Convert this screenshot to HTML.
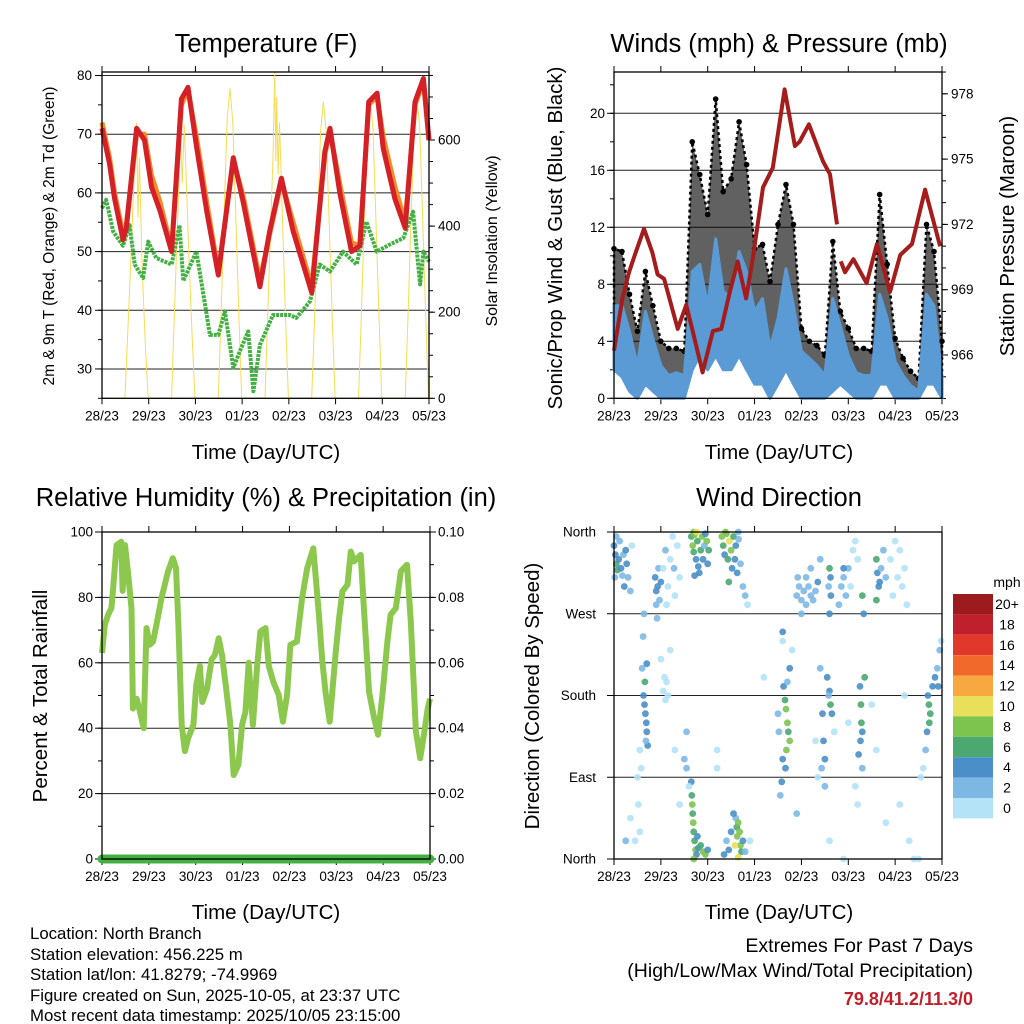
<!DOCTYPE html>
<html><head><meta charset="utf-8">
<style>
body{margin:0;background:#fff;}
svg{display:block;font-family:"Liberation Sans",Arial,sans-serif;}
</style></head>
<body>
<svg id="c" width="1024" height="1024" viewBox="0 0 1024 1024" xmlns="http://www.w3.org/2000/svg">
<rect width="1024" height="1024" fill="#fff"/>
<g font-size="25.5" text-anchor="middle" fill="#000">
<text x="266" y="52">Temperature (F)</text>
<text x="779" y="52">Winds (mph) &amp; Pressure (mb)</text>
<text x="266" y="506">Relative Humidity (%) &amp; Precipitation (in)</text>
<text x="779" y="506">Wind Direction</text>
</g>
<g font-size="20.5" text-anchor="middle">
<text x="266" y="459">Time (Day/UTC)</text>
<text x="779" y="459">Time (Day/UTC)</text>
<text x="266" y="919">Time (Day/UTC)</text>
<text x="779" y="919">Time (Day/UTC)</text>
<text transform="translate(54,236) rotate(-90)" font-size="15.5">2m &amp; 9m T (Red, Orange) &amp; 2m Td (Green)</text>
<text transform="translate(497,241) rotate(-90)" font-size="16">Solar Insolation (Yellow)</text>
<text transform="translate(562,238) rotate(-90)">Sonic/Prop Wind &amp; Gust (Blue, Black)</text>
<text transform="translate(1014,236) rotate(-90)">Station Pressure (Maroon)</text>
<text transform="translate(47,696) rotate(-90)">Percent &amp; Total Rainfall</text>
<text transform="translate(539,696) rotate(-90)">Direction (Colored By Speed)</text>
</g>
<g font-size="16.8">
<text x="30" y="939">Location: North Branch</text>
<text x="30" y="960">Station elevation: 456.225 m</text>
<text x="30" y="980">Station lat/lon: 41.8279; -74.9969</text>
<text x="30" y="1001">Figure created on Sun, 2025-10-05, at 23:37 UTC</text>
<text x="30" y="1021">Most recent data timestamp: 2025/10/05 23:15:00</text>
</g>
<g font-size="19.5" text-anchor="end">
<text x="973" y="952">Extremes For Past 7 Days</text>
<text x="973" y="977">(High/Low/Max Wind/Total Precipitation)</text>
<text x="973" y="1005" fill="#c0202b" font-weight="bold" font-size="18">79.8/41.2/11.3/0</text>
</g>
<g id="layer"></g>
</svg>
<script>
// ---------- data ----------
const dayLabels=["28/23","29/23","30/23","01/23","02/23","03/23","04/23","05/23"];
const tDays=[0,0.16,0.27,0.45,0.52,0.74,0.91,1.06,1.24,1.49,1.70,1.84,2.02,2.24,2.49,2.81,3.02,3.38,3.59,3.84,4.09,4.49,4.77,4.88,5.09,5.34,5.52,5.71,5.89,6.02,6.27,6.49,6.70,6.88,7.0];
const tRed=[71,65,59,52,54,71,69,61,57,50,76,78,68,57,46,66,58.5,44,53.5,62.5,53.5,43,67,71,60,50,51,75.5,77,67.6,59,54,75.5,79.5,69];
const tOrange=[72,66,60,53,54.5,70,70,63,58.5,50.5,75,77.5,69.5,58.5,46.5,65.5,59.5,45,53,62,55,44,66.5,70.5,61.5,51.5,51,75,76.5,69.5,61,55,75,79,69];
const tdDays=[0,0.09,0.24,0.45,0.59,0.7,0.88,0.99,1.16,1.49,1.66,1.74,2.02,2.16,2.31,2.49,2.63,2.81,2.95,3.13,3.24,3.38,3.66,4.02,4.16,4.45,4.66,4.88,5.16,5.45,5.66,5.88,6.16,6.45,6.66,6.81,6.88,7.0];
const tdVals=[57.4,58.8,53.4,51,54.5,47.8,45.5,51.7,48.9,47.8,54.5,45,50,43.2,35.8,35.8,39.8,30.2,33,36.4,26.2,34.1,39.2,39.2,38.7,41.5,47.8,46.6,50,47.8,55.1,50,51.2,52.3,56.8,44.4,50,48.3];
const solarDays=[0,0.49,0.55,0.62,0.68,0.74,0.77,0.80,0.86,0.93,0.99,1.49,1.55,1.62,1.68,1.72,1.76,1.80,1.86,1.93,1.99,2.49,2.55,2.62,2.68,2.74,2.80,2.86,2.93,2.99,3.49,3.55,3.62,3.66,3.70,3.72,3.74,3.77,3.80,3.86,3.93,3.99,4.49,4.55,4.62,4.68,4.74,4.80,4.86,4.93,4.99,5.49,5.55,5.62,5.68,5.74,5.80,5.86,5.93,5.99,6.49,6.55,6.62,6.68,6.74,6.80,6.86,6.93,6.99,7];
const solarVals=[0,0,150,330,500,640,420,560,300,120,0,0,200,420,600,500,635,520,330,140,0,0,200,450,650,720,640,440,190,0,0,200,430,560,757,550,700,520,640,430,180,0,0,180,420,620,689,620,420,180,0,0,190,430,630,697,630,430,190,0,0,190,430,630,697,630,430,190,0,0];
const tempTicks=[30,40,50,60,70,80];
const solarTicks=[0,200,400,600];

const windDays=[0,0.17,0.33,0.5,0.67,0.83,1,1.17,1.33,1.5,1.67,1.83,2,2.17,2.33,2.5,2.67,2.83,3,3.17,3.33,3.5,3.67,3.83,4,4.17,4.33,4.5,4.67,4.83,5,5.17,5.33,5.5,5.67,5.83,6,6.17,6.33,6.5,6.67,6.83,7];
const gustHi=[10.5,10.3,7.3,4.7,8.9,6.5,4,3.5,3.5,3.3,18,15.7,12.9,21,14.5,15.4,19.4,16.4,10.5,10.8,8.2,12.2,15,12.2,4.9,4,3.7,3,11,6.1,4.9,3.5,3.5,3.3,14.3,9.4,4.2,2.8,1.9,1.4,12.2,10.3,4];
const windHi=[6.5,6.5,4.7,2.3,6.1,4.2,2.3,1.6,1.8,1.6,8.9,9.4,6.5,11.2,7.5,7,10.3,8.9,6.1,7,3.5,5.6,9.1,6.5,3.3,2.8,2.3,1.6,7,5.1,3,1.8,1.6,1.6,7.3,5.6,2.6,1.6,0.9,0.5,7.3,6.5,1.5];
const windLo=[2,1.5,0.5,0,1,0.5,0,0,0,0,2,3,2,3,2,2,3,2,1,1,0,1,2,1,0,0,0,0,0.5,1,0.5,0,0,0,1,1,0,0,0,0,1,1,0];
const pDays=[0,0.18,0.32,0.46,0.64,0.82,0.93,1.07,1.36,1.54,1.68,1.89,2.11,2.29,2.46,2.64,2.82,2.96,3.18,3.39,3.64,3.86,3.96,4.16,4.46,4.61,4.76,4.8,4.84,4.93,5.11,5.39,5.61,5.89,6.11,6.36,6.64,6.96];
const pVals=[966.2,968.6,969.8,970.7,971.8,970.7,969.7,969.5,967.2,968.3,967.1,965.2,967.1,967.2,968.8,970.3,968.6,970.4,973.7,974.6,978.2,975.6,975.8,976.6,974.9,974.3,972.0,null,970.3,969.8,970.4,969.3,971.1,968.9,970.6,971.1,973.6,971.0];
const windTicks=[0,4,8,12,16,20];
const pressTicks=[966,969,972,975,978];

const rhDays=[0,0.06,0.13,0.2,0.24,0.31,0.41,0.44,0.49,0.56,0.63,0.66,0.74,0.81,0.89,0.95,1.02,1.09,1.16,1.27,1.41,1.51,1.58,1.63,1.7,1.77,1.84,1.95,2.01,2.09,2.14,2.24,2.34,2.41,2.49,2.56,2.66,2.74,2.81,2.91,2.99,3.06,3.13,3.22,3.31,3.38,3.49,3.56,3.66,3.77,3.86,3.95,4.02,4.16,4.27,4.38,4.51,4.63,4.7,4.77,4.86,4.99,5.06,5.13,5.24,5.31,5.38,5.52,5.59,5.7,5.81,5.89,5.99,6.09,6.16,6.27,6.38,6.51,6.59,6.7,6.79,6.88,6.95,7.0];
const rhVals=[63,71.6,74.7,76.7,82.9,96,97,82,96,87,76.7,46,49,45,40,70.6,65.5,66.5,71.6,79.8,88,92,89,71.6,41,33,37,41,53,59,48,52,61,62.4,67.5,62.4,51,41,25.7,28.8,41,45,60,41,59,69.6,70.6,59,54,50.2,42,50.2,65.5,66.5,79.8,89,95,74.7,61,51,42,63.5,73.7,81.8,83.9,94,91,93,76.7,51,43,38,51,66.5,74.7,76.7,88,90,72.6,39,30.8,39,46,49];
const precipDays=[0,7];
const precipVals=[0,0];
const rhTicks=[0,20,40,60,80,100];
const precipTicks=["0.00","0.02","0.04","0.06","0.08","0.10"];

const dirPts=[[0.0,345,5],[0.03,335,5],[0.05,325,7],[0.07,318,7],[0.1,330,5],[0.12,350,3],[0.15,320,5],[0.18,312,3],[0.2,335,3],[0.25,340,5],[0.27,325,5],[0.3,310,3],[0.35,295,3],[0.38,345,1],[0.05,355,3],[0.22,300,5],[0.02,310,3],
[0.88,310,5],[0.9,295,5],[0.93,300,5],[0.95,320,3],[0.97,285,3],[0.9,280,3],[1.0,305,5],[0.92,265,3],
[1.05,320,1],[1.1,340,3],[1.15,300,1],[1.2,330,1],[1.25,355,1],[1.3,290,1],[1.35,345,1],[1.4,310,1],[1.12,280,1],[1.28,320,3],
[1.65,355,7],[1.68,345,9],[1.7,338,7],[1.72,357,9],[1.75,330,5],[1.78,350,7],[1.8,322,5],[1.82,315,5],[1.85,340,7],[1.88,355,9],[1.9,330,5],[1.93,345,3],[1.95,358,5],[1.98,350,9],[2.0,325,5],[2.02,340,7],[1.7,360,9],[1.76,360,11],[1.72,312,5],
[2.3,355,9],[2.33,345,7],[2.36,335,5],[2.4,358,9],[2.43,330,7],[2.46,350,11],[2.5,340,9],[2.52,320,5],[2.55,355,7],[2.58,330,5],[2.6,345,5],[2.63,315,5],[2.66,352,3],[2.7,325,3],[2.75,300,3],[2.8,290,3],[2.85,280,1],[2.45,305,7],[2.65,360,3],[2.38,360,9],
[1.65,85,5],[1.66,70,7],[1.67,60,9],[1.68,50,7],[1.69,40,9],[1.7,30,7],[1.72,20,7],[1.74,10,9],[1.76,5,5],[1.8,12,5],[1.85,15,7],[1.9,8,9],[1.95,5,9],[2.0,10,5],[1.7,0,9],[1.78,25,5],
[2.6,45,3],[2.62,35,7],[2.63,25,9],[2.65,40,9],[2.68,30,9],[2.7,15,9],[2.72,8,7],[2.75,20,5],[2.55,50,5],[2.5,30,5],[2.45,10,5],[2.4,20,3],[2.35,5,5],[2.58,15,11],[2.65,2,11],[2.8,8,3],[2.9,20,1],
[0.63,180,5],[0.65,170,5],[0.67,160,5],[0.69,150,5],[0.7,140,5],[0.72,125,5],[0.68,130,3],[0.66,195,7],[0.6,210,3],[0.62,245,3],[0.64,270,3],[0.7,215,5],[0.55,120,1],[0.58,100,1],[0.5,90,1],[0.52,60,1],[0.55,30,1],[0.45,20,1],[0.35,45,1],[0.25,20,3],
[1.05,185,1],[1.1,175,1],[1.08,200,1],[1.12,195,1],[1.15,180,1],[1.0,220,1],[1.2,230,1],[1.5,110,3],[1.55,100,3],[1.55,140,3],[1.6,80,1],[1.3,120,1],[1.4,60,1],
[3.62,190,5],[3.65,175,7],[3.67,165,9],[3.7,150,9],[3.72,140,7],[3.75,130,9],[3.68,120,9],[3.6,110,5],[3.66,100,5],[3.58,85,5],[3.55,70,3],[3.7,195,3],[3.75,210,5],[3.8,230,1],[3.5,160,3],[3.52,140,3],[3.6,250,5],
[4.4,210,3],[4.45,160,5],[4.47,130,5],[4.5,110,5],[4.43,100,3],[4.55,200,5],[4.6,185,5],[4.62,170,7],[4.65,160,5],[4.58,180,3],[4.3,130,1],[4.35,90,1],[4.7,140,1],[4.5,80,3],
[5.25,190,5],[5.27,170,7],[5.28,150,7],[5.26,130,5],[5.22,115,5],[5.3,100,3],[5.3,140,5],[5.15,80,1],[5.2,60,1],[5.35,200,7],[5.33,270,5],[5.3,290,7],
[6.7,180,5],[6.72,170,7],[6.75,160,7],[6.73,150,7],[6.68,140,5],[6.65,120,3],[6.8,190,5],[6.85,200,5],[6.9,210,3],[6.92,190,5],[6.95,230,3],[6.98,240,1],[6.6,100,1],[6.55,90,1],
[3.9,290,3],[3.95,300,3],[4.0,285,3],[4.05,295,3],[4.1,280,3],[4.15,300,3],[4.2,290,3],[4.25,285,3],[4.3,295,3],[4.1,310,3],[4.0,270,3],[4.2,320,3],[3.92,310,3],[4.35,305,5],[4.4,330,3],
[4.6,320,7],[4.62,310,5],[4.63,290,5],[4.6,270,5],[4.58,300,3],
[4.85,300,3],[4.9,310,3],[4.95,290,3],[5.0,320,3],[5.05,300,1],[5.1,340,1],[5.15,350,1],[5.2,330,1],[4.8,280,3],[4.9,320,5],
[5.6,330,7],[5.62,315,5],[5.65,300,5],[5.6,285,7],[5.67,305,5],[5.7,320,3],[5.75,340,3],[5.8,310,3],
[5.9,330,1],[6.0,350,1],[6.1,340,1],[6.2,320,1],[6.05,310,1],[6.15,300,1],[5.95,290,1],[6.25,280,1],
[2.2,120,1],[2.2,100,1],[3.2,200,1],[3.6,240,1],[5.0,150,1],[5.5,170,1],[6.1,60,1],[6.3,20,1],[6.4,0,1],[6.5,0,1],[5.8,40,1],[4.6,20,1],[4.9,0,1],[3.9,50,3],[6.2,180,1],[5.6,120,1]];
const dirTicks=[0,90,180,270,360];
const dirLabels=["North","East","South","West","North"];
const speedLevels=[0,2,4,6,8,10,12,14,16,18,20];
const speedLabels=["0","2","4","6","8","10","12","14","16","18","20+"];
const speedColors=["#b4e2f7","#7db8e5","#4a8fc7","#4aa870","#7dc44f","#e8e05a","#f7a840","#f26a2b","#e0382b","#c0202b","#9b1b1e"];

// ---------- helpers ----------
const NS="http://www.w3.org/2000/svg";
const layer=document.getElementById('layer');
function el(tag,attrs,parent){const e=document.createElementNS(NS,tag);for(const k in attrs)e.setAttribute(k,attrs[k]);(parent||layer).appendChild(e);return e;}
function lin(d0,d1,r0,r1){return v=>r0+(v-d0)*(r1-r0)/(d1-d0);}
function pathFrom(xs,ys,fx,fy){let d="",pen=false;for(let i=0;i<xs.length;i++){if(ys[i]===null){pen=false;continue;}d+=(pen?"L":"M")+fx(xs[i]).toFixed(1)+","+fy(ys[i]).toFixed(1);pen=true;}return d;}
function colorFor(s){let idx=0;for(let i=0;i<speedLevels.length;i++){if(s>=speedLevels[i])idx=i;}return speedColors[idx];}

function frame(x0,y0,x1,y1,name,xfun){
  const g=el('g',{});
  
  
  for(let i=0;i<dayLabels.length;i++){
    const x=xfun(i);
    const t1=el('line',{x1:x,x2:x,y1:y0,y2:y0-6,stroke:'#000','stroke-width':1},g);
    
    
    const t2=el('line',{x1:x,x2:x,y1:y1,y2:y1+6,stroke:'#000','stroke-width':1},g);
    
    
    const lb=el('text',{x:x,y:y1+22,'font-size':13.5,'text-anchor':'middle'},g);
    lb.textContent=dayLabels[i];
    
    
  }
  return g;
}
function border(x0,y0,x1,y1,name){
  const r=el('rect',{x:x0,y:y0,width:x1-x0,height:y1-y0,fill:'none',stroke:'#000','stroke-width':1.3});
  
  
}
function grid(x0,x1,y,name){
  const l=el('line',{x1:x0,x2:x1,y1:y,y2:y,stroke:'#222','stroke-width':1});
  
  
}
function ylab(x,y,txt,anchor,name){
  const t=el('text',{x:x,y:y+4.5,'font-size':13.5,'text-anchor':anchor});
  t.textContent=txt;
  
  
}
function tick(x,y,dx,name){
  const l=el('line',{x1:x,x2:x+dx,y1:y,y2:y,stroke:'#000','stroke-width':1});
  
  
}

// ---------- Temperature panel ----------
{
  const X0=102,X1=429,Y0=72,Y1=398.3;
  const x=lin(0,7,X0,X1), y=lin(25,80.6,Y1,Y0), ys=lin(0,758,Y1,Y0);
  frame(X0,Y0,X1,Y1,'temperature',x);
  tempTicks.forEach(v=>{grid(X0,X1,y(v),'temp-gridline');ylab(X0-10,y(v),String(v),'end','temp-y-tick-label');tick(X0,y(v),-7,'temp-y-tick');});
  for(let v=25;v<=80;v+=5)tick(X0,y(v),-4,'temp-y-minor-tick');
  solarTicks.forEach(v=>{ylab(X1+9,ys(v),String(v),'start','solar-y-tick-label');tick(X1,ys(v),6,'solar-y-tick');});
  for(let v=0;v<=750;v+=50)tick(X1,ys(v),4,'solar-y-minor-tick');
  const sol=el('path',{d:pathFrom(solarDays,solarVals,x,ys),fill:'none',stroke:'#f7dc55','stroke-width':1});
  
  
  const td=el('path',{d:pathFrom(tdDays,tdVals,x,y),fill:'none',stroke:'#44b044','stroke-width':4,'stroke-dasharray':'3 1','stroke-linejoin':'round'});
  
  
  const o=el('path',{d:pathFrom(tDays,tOrange,x,y),fill:'none',stroke:'#f58a2a','stroke-width':5,'stroke-linejoin':'round'});
  
  
  const r=el('path',{d:pathFrom(tDays,tRed,x,y),fill:'none',stroke:'#d42128','stroke-width':5,'stroke-linejoin':'round'});
  
  
  border(X0,Y0,X1,Y1,'temperature');
}

// ---------- Winds panel ----------
{
  const X0=614,X1=942,Y0=72,Y1=398.3;
  const x=lin(0,7,X0,X1), y=lin(0,4,Y1,Y1-57), yp=lin(966,969,355,289.7);
  frame(X0,Y0,X1,Y1,'winds',x);
  windTicks.forEach(v=>{if(v>0)grid(X0,X1,y(v),'wind-gridline');ylab(X0-9,y(v),String(v),'end','wind-y-tick-label');tick(X0,y(v),-7,'wind-y-tick');});
  for(let v=0;v<=22;v+=2)tick(X0,y(v),-4,'wind-y-minor-tick');
  pressTicks.forEach(v=>{ylab(X1+9,yp(v),String(v),'start','pressure-y-tick-label');tick(X1,yp(v),6,'pressure-y-tick');});
  for(let v=964;v<=979;v++)tick(X1,yp(v),4,'pressure-y-minor-tick');
  // gust region
  let d="M"+x(windDays[0])+","+y(windHi[0]);
  for(let i=0;i<windDays.length;i++)d+="L"+x(windDays[i]).toFixed(1)+","+y(gustHi[i]).toFixed(1);
  for(let i=windDays.length-1;i>=0;i--)d+="L"+x(windDays[i]).toFixed(1)+","+y(windHi[i]).toFixed(1);
  const gr=el('path',{d:d+"Z",fill:'#000','fill-opacity':0.62,stroke:'#000','stroke-width':2.5,'stroke-dasharray':'3 3','stroke-linejoin':'round'});
  
  
  for(let i=0;i<windDays.length;i++){
    const c=el('circle',{cx:x(windDays[i]),cy:y(gustHi[i]),r:2.8,fill:'#000'});
    
    
  }
  let d2="M"+x(windDays[0])+","+y(windHi[0]);
  for(let i=0;i<windDays.length;i++)d2+="L"+x(windDays[i]).toFixed(1)+","+y(windHi[i]).toFixed(1);
  for(let i=windDays.length-1;i>=0;i--)d2+="L"+x(windDays[i]).toFixed(1)+","+y(windLo[i]).toFixed(1);
  const wb=el('path',{d:d2+"Z",fill:'#5a9bd5',stroke:'#5a9bd5','stroke-width':3,'stroke-linejoin':'round'});
  
  
  const p=el('path',{d:pathFrom(pDays,pVals,x,yp),fill:'none',stroke:'#a51c1c','stroke-width':4,'stroke-linejoin':'round'});
  
  
  border(X0,Y0,X1,Y1,'winds');
}

// ---------- RH panel ----------
{
  const X0=102,X1=430,Y0=532,Y1=859;
  const x=lin(0,7,X0,X1), y=lin(0,100,Y1,Y0);
  frame(X0,Y0,X1,Y1,'humidity',x);
  rhTicks.forEach((v,i)=>{if(v>0&&v<100)grid(X0,X1,y(v),'rh-gridline');ylab(X0-9,y(v),String(v),'end','rh-y-tick-label');tick(X0,y(v),-7,'rh-y-tick');ylab(X1+8,y(v),precipTicks[i],'start','precip-y-tick-label');tick(X1,y(v),6,'precip-y-tick');});
  for(let v=0;v<=100;v+=10){tick(X0,y(v),-4,'rh-y-minor-tick');tick(X1,y(v),4,'precip-y-minor-tick');}
  const pr=el('path',{d:pathFrom(precipDays,precipVals,x,y),fill:'none',stroke:'#44b044','stroke-width':9,'stroke-linecap':'round'});
  
  
  const rh=el('path',{d:pathFrom(rhDays,rhVals,x,y),fill:'none',stroke:'#8dc84e','stroke-width':6,'stroke-linejoin':'round'});
  
  
  border(X0,Y0,X1,Y1,'humidity');
}

// ---------- Wind direction panel ----------
{
  const X0=614,X1=942,Y0=532,Y1=859;
  const x=lin(0,7,X0,X1), y=lin(0,360,Y1,Y0);
  frame(X0,Y0,X1,Y1,'direction',x);
  dirTicks.forEach((v,i)=>{if(v>0&&v<360)grid(X0,X1,y(v),'dir-gridline');ylab(X0-18,y(v),dirLabels[i],'end','dir-y-tick-label');tick(X0,y(v),-7,'dir-y-tick');});
  dirPts.forEach(pt=>{
    const c=el('circle',{cx:x(pt[0]).toFixed(1),cy:y(pt[1]).toFixed(1),r:3.4,fill:colorFor(pt[2]),'fill-opacity':0.9});
    
    
  });
  border(X0,Y0,X1,Y1,'direction');
  // legend
  const lg=el('g',{});
  
  
  const LT=594,LH=20.4;
  const mt=el('text',{x:1007,y:587,'font-size':14,'text-anchor':'middle'},lg);
  mt.textContent="mph";
  
  
  for(let i=0;i<speedLevels.length;i++){
    const k=speedLevels.length-1-i;
    const r=el('rect',{x:953,y:LT+i*LH,width:40,height:LH,fill:speedColors[k]},lg);
    
    
    const t=el('text',{x:1007,y:LT+i*LH+15,'font-size':14,'text-anchor':'middle'},lg);
    t.textContent=speedLabels[k];
    
    
  }
}
</script>
</body></html>
